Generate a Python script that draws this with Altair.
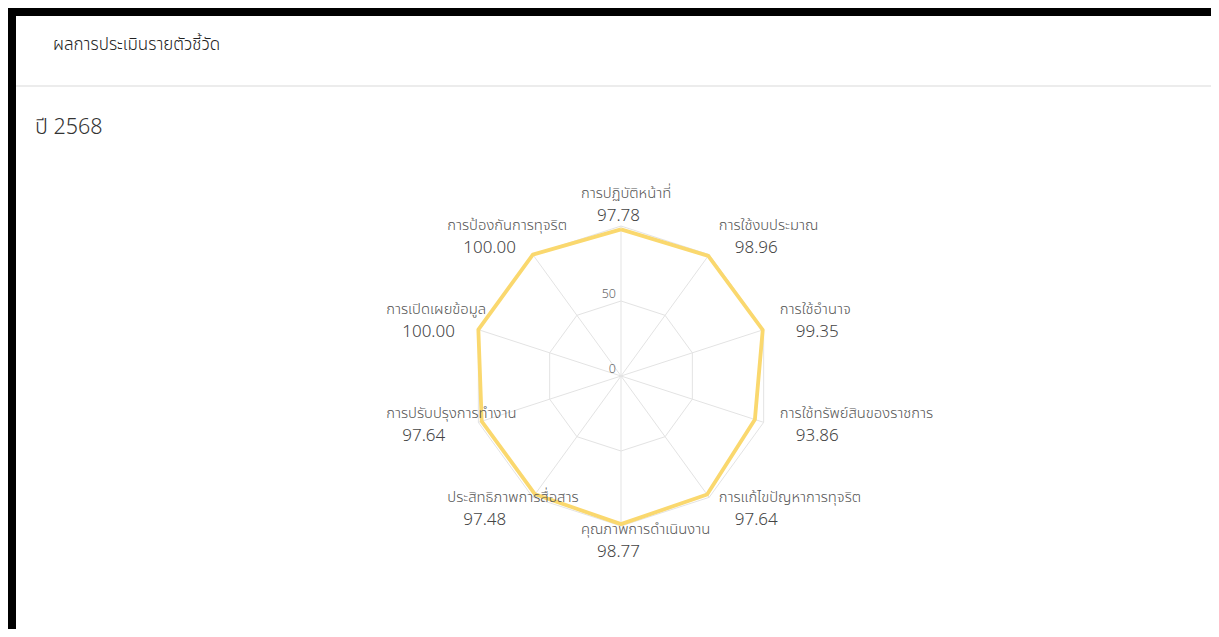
import math
import altair as alt
import pandas as pd

# ---------------- data ----------------
categories = [
    "การปฏิบัติหน้าที่",
    "การใช้งบประมาณ",
    "การใช้อำนาจ",
    "การใช้ทรัพย์สินของราชการ",
    "การแก้ไขปัญหาการทุจริต",
    "คุณภาพการดำเนินงาน",
    "ประสิทธิภาพการสื่อสาร",
    "การปรับปรุงการทำงาน",
    "การเปิดเผยข้อมูล",
    "การป้องกันการทุจริต",
]
values = [97.78, 98.96, 99.35, 93.86, 97.64, 98.77, 97.48, 97.64, 100.00, 100.00]
ring_levels = [50, 100]
tick_values = [0, 50]
tick_labels = ["0", "50"]
header_title = "ผลการประเมินรายตัวชี้วัด"
year_label = "ปี 2568"

# ---------------- layout ----------------
W, H = 1203, 621
CX, CY = 613, 368          # centre of radar in view pixels
PX = 1.5                   # pixels per value unit
XD = [-CX / PX, (W - CX) / PX]
YD = [-(H - CY) / PX, CY / PX]
FONT = "Noto Sans Thai, Noto Sans, sans-serif"

n = len(categories)
ang = [2 * math.pi * i / n for i in range(n)]

xs = alt.Scale(domain=XD, nice=False, zero=False)
ys = alt.Scale(domain=YD, nice=False, zero=False)


def X(f):
    return alt.X(f, type="quantitative", scale=xs, axis=None)


def Y(f):
    return alt.Y(f, type="quantitative", scale=ys, axis=None)


# grid rings
ring_rows = []
for lv in ring_levels:
    for k in range(n + 1):
        a = ang[k % n]
        ring_rows.append({"lv": lv, "k": k, "x": lv * math.sin(a), "y": lv * math.cos(a)})
rings = alt.Chart(pd.DataFrame(ring_rows)).mark_line(
    color="#e3e3e3", strokeWidth=1
).encode(x=X("x"), y=Y("y"), detail="lv:N", order="k:Q")

# spokes
spoke_df = pd.DataFrame({
    "x": [0.0] * n, "y": [0.0] * n,
    "x2": [100 * math.sin(a) for a in ang],
    "y2": [100 * math.cos(a) for a in ang],
})
spokes = alt.Chart(spoke_df).mark_rule(color="#e3e3e3", strokeWidth=1).encode(
    x=X("x"), y=Y("y"), x2="x2:Q", y2="y2:Q"
)

# series polygon
poly_rows = []
for k in range(n + 1):
    i = k % n
    poly_rows.append({"k": k, "x": values[i] * math.sin(ang[i]), "y": values[i] * math.cos(ang[i])})
poly = alt.Chart(pd.DataFrame(poly_rows)).mark_line(
    color="#FAD86E", strokeWidth=3.8, strokeJoin="round"
).encode(x=X("x"), y=Y("y"), order="k:Q")

# labels
LR = 112  # label radius in units
lab_rows = []
for i in range(n):
    s, c = math.sin(ang[i]), math.cos(ang[i])
    if s > 0.01:
        off = -1
    elif s < -0.01:
        off = -75
    else:
        off = -40
    lab_rows.append({
        "name": categories[i],
        "val": f"{values[i]:.2f}",
        "nx": LR * s + off / PX,
        "ny": LR * c + 14 / PX,
        "vx": LR * s + (off + 16) / PX,
        "vy": LR * c - 8 / PX,
    })
lab_df = pd.DataFrame(lab_rows)
names = alt.Chart(lab_df).mark_text(
    align="left", baseline="middle", font=FONT, fontSize=14.8, fontWeight=300,
    color="#555555"
).encode(x=X("nx"), y=Y("ny"), text="name:N")
vals = alt.Chart(lab_df).mark_text(
    align="left", baseline="middle", font=FONT, fontSize=17, fontWeight=300,
    color="#444444"
).encode(x=X("vx"), y=Y("vy"), text="val:N")

# radial tick labels
tick_df = pd.DataFrame({"x": [0.0] * len(tick_values), "y": tick_values, "t": tick_labels})
ticks = alt.Chart(tick_df).mark_text(
    align="right", baseline="middle", font=FONT, fontSize=12.5, fontWeight=300,
    color="#666666", dx=-5, dy=-7
).encode(x=X("x"), y=Y("y"), text="t:N")

# page decorations
deco_df = pd.DataFrame({"a": [0]})
top_bar = alt.Chart(deco_df).mark_rect(color="#000000").encode(
    x=alt.value(0), x2=alt.value(W), y=alt.value(0), y2=alt.value(8)
)
left_bar = alt.Chart(deco_df).mark_rect(color="#000000").encode(
    x=alt.value(0), x2=alt.value(8), y=alt.value(0), y2=alt.value(H)
)
sep = alt.Chart(deco_df).mark_rect(color="#ececec").encode(
    x=alt.value(8), x2=alt.value(W), y=alt.value(77), y2=alt.value(79)
)
title = alt.Chart(pd.DataFrame({"t": [header_title]})).mark_text(
    align="left", baseline="middle", font=FONT, fontSize=17, fontWeight=300,
    color="#222222"
).encode(x=alt.value(45), y=alt.value(37), text="t:N")
year = alt.Chart(pd.DataFrame({"t": [year_label]})).mark_text(
    align="left", baseline="middle", font=FONT, fontSize=21.5, fontWeight=300,
    color="#333333"
).encode(x=alt.value(27), y=alt.value(120), text="t:N")

chart = alt.layer(
    rings, spokes, poly, names, vals, ticks, top_bar, left_bar, sep, title, year
).properties(
    width=W, height=H, autosize=alt.AutoSizeParams(type="none"), padding=0
).configure_view(stroke=None).configure(background="#ffffff")

chart.save("out.html", embed_options={"renderer": "svg", "actions": False})
